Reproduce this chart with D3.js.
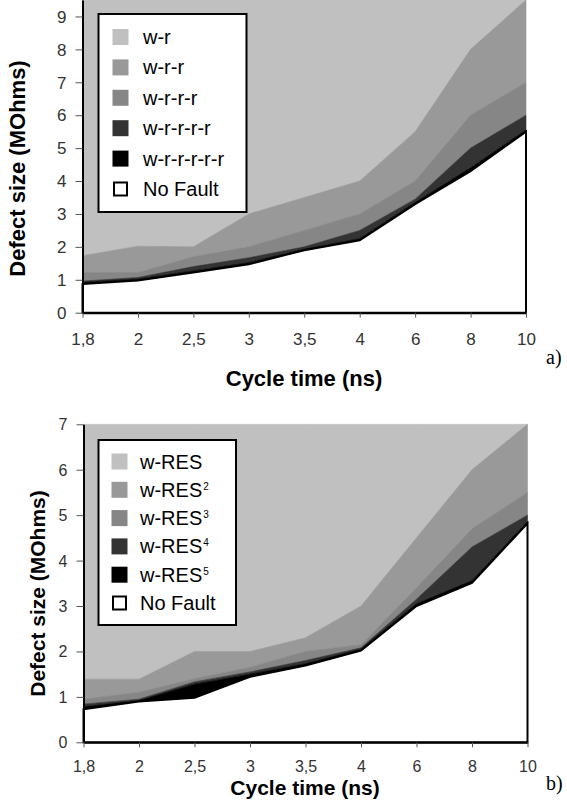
<!DOCTYPE html>
<html>
<head>
<meta charset="utf-8">
<script src="https://cdn.jsdelivr.net/npm/d3@7"></script>
<style>
  html, body { margin: 0; padding: 0; background: #fff; }
  svg { display: block; }
  .tick text { font-family: "Liberation Sans", Arial, sans-serif; fill: #333; }
</style>
</head>
<body>
<svg id="chart" width="567" height="811"></svg>
<script>
// ---------- data ----------
const cycleTimes = ["1,8", "2", "2,5", "3", "3,5", "4", "6", "8", "10"];
const yTicksA = [0, 1, 2, 3, 4, 5, 6, 7, 8, 9];
const yTicksB = [0, 1, 2, 3, 4, 5, 6, 7];

// chart a) : upper boundary of each band (MOhms)
const noFaultA = [0.87, 0.98, 1.22, 1.47, 1.9, 2.2, 3.3, 4.3, 5.5];
const wr5A     = [0.92, 1.02, 1.27, 1.52, 1.93, 2.25, 3.35, 4.4, 5.55];
const wr4A     = [0.96, 1.07, 1.4, 1.67, 2.0, 2.5, 3.45, 5.0, 6.0];
const wr3A     = [1.22, 1.22, 1.7, 2.0, 2.5, 3.0, 4.0, 6.0, 7.0];
const wr2A     = [1.73, 2.02, 2.0, 3.0, 3.5, 4.0, 5.5, 8.0, 9.5];
const wr1A     = [9.5, 9.5, 9.5, 9.5, 9.5, 9.5, 9.5, 9.5, 9.5];
const labelsA  = ["w-r", "w-r-r", "w-r-r-r", "w-r-r-r-r", "w-r-r-r-r-r", "No Fault"];

// chart b)
const noFaultB = [0.73, 0.9, 0.98, 1.44, 1.69, 2.02, 3.0, 3.51, 4.82];
const res5B    = [0.78, 0.92, 1.28, 1.5, 1.73, 2.05, 3.05, 3.56, 4.86];
const res4B    = [0.84, 0.95, 1.33, 1.55, 1.8, 2.08, 3.15, 4.3, 5.0];
const res3B    = [0.95, 1.1, 1.4, 1.65, 2.0, 2.15, 3.4, 4.7, 5.5];
const res2B    = [1.39, 1.39, 2.0, 2.0, 2.3, 3.0, 4.5, 6.0, 7.0];
const res1B    = [7, 7, 7, 7, 7, 7, 7, 7, 7];
const labelsB  = ["w-RES", "w-RES", "w-RES", "w-RES", "w-RES", "No Fault"];
const supsB    = ["", "2", "3", "4", "5", ""];

const colors = ["#c0c0c0", "#999999", "#868686", "#333333", "#000000", "#ffffff"];

// ---------- drawing ----------
const svg = d3.select("#chart");

function drawChart(cfg) {
  const g = svg.append("g");
  const x = d3.scalePoint().domain(cycleTimes).range([cfg.x0, cfg.x1]);
  const y = d3.scaleLinear().domain([0, cfg.yMax]).range([cfg.yBottom, cfg.yTop]);

  const bands = cfg.series; // ordered top (light) -> bottom (No Fault)
  bands.forEach((upper, i) => {
    if (i === bands.length - 1) return;
    const lower = bands[i + 1];
    const area = d3.area()
      .x((d, j) => x(cycleTimes[j]))
      .y0((d, j) => y(lower[j]))
      .y1((d, j) => y(upper[j]));
    g.append("path").datum(upper).attr("d", area)
      .attr("fill", colors[i]).attr("stroke", colors[i]).attr("stroke-width", 0.6);
  });
  // No Fault area with black outline
  const nf = bands[bands.length - 1];
  const nfArea = d3.area()
    .x((d, j) => x(cycleTimes[j]))
    .y0(y(0))
    .y1(d => y(d));
  g.append("path").datum(nf).attr("d", nfArea)
    .attr("fill", "#fff").attr("stroke", "#000").attr("stroke-width", 2)
    .attr("stroke-linejoin", "miter");

  // axes
  const yAxis = d3.axisLeft(y).tickValues(cfg.yTicks).tickSize(7).tickSizeOuter(0).tickPadding(9)
    .tickFormat(d3.format("d"));
  const ga = g.append("g").attr("transform", `translate(${cfg.x0},0)`).call(yAxis);
  ga.select(".domain").attr("stroke", "#000").attr("stroke-width", 2);
  ga.selectAll(".tick line").attr("stroke", "#555").attr("stroke-width", 1);
  ga.selectAll(".tick text").attr("font-size", cfg.tickFont).attr("dy", "0.34em");

  const xAxis = d3.axisBottom(x).tickSize(5).tickSizeOuter(0).tickPadding(cfg.xPad);
  const gx = g.append("g").attr("transform", `translate(0,${cfg.yBottom})`).call(xAxis);
  gx.select(".domain").attr("stroke", "#000").attr("stroke-width", 2);
  gx.selectAll(".tick line").attr("stroke", "#555").attr("stroke-width", 1);
  gx.selectAll(".tick text").attr("font-size", cfg.tickFont);

  // axis titles
  g.append("text")
    .attr("x", cfg.xTitleX).attr("y", cfg.xTitleY)
    .attr("text-anchor", "middle")
    .attr("font-family", "'Liberation Sans', Arial, sans-serif")
    .attr("font-weight", "bold").attr("font-size", cfg.xTitleFont)
    .attr("fill", "#000")
    .text("Cycle time (ns)");
  g.append("text")
    .attr("transform", `translate(${cfg.yTitleX},${cfg.yTitleY}) rotate(-90)`)
    .attr("text-anchor", "middle")
    .attr("font-family", "'Liberation Sans', Arial, sans-serif")
    .attr("font-weight", "bold").attr("font-size", cfg.yTitleFont)
    .attr("fill", "#000")
    .text("Defect size (MOhms)");

  // panel label
  g.append("text")
    .attr("x", 546).attr("y", cfg.panelY)
    .attr("font-family", "'Liberation Serif', 'Times New Roman', serif")
    .attr("font-size", 20).attr("fill", "#000")
    .text(cfg.panel);

  // legend
  const L = cfg.legend;
  g.append("rect")
    .attr("x", L.x).attr("y", L.y).attr("width", L.w).attr("height", L.h)
    .attr("fill", "#fff").attr("stroke", "#000").attr("stroke-width", 2);
  cfg.labels.forEach((lab, i) => {
    const cy = L.row0 + i * L.step;
    if (i < cfg.labels.length - 1) {
      g.append("rect").attr("x", L.sx).attr("y", cy - 8).attr("width", 16).attr("height", 16)
        .attr("fill", colors[i]);
    } else {
      g.append("rect").attr("x", L.sx + 1.5).attr("y", cy - 6.5).attr("width", 13).attr("height", 13)
        .attr("fill", "#fff").attr("stroke", "#000").attr("stroke-width", 2);
    }
    const t = g.append("text")
      .attr("x", L.tx).attr("y", cy + 7)
      .attr("font-family", "'Liberation Sans', Arial, sans-serif")
      .attr("font-size", 20).attr("fill", "#000");
    t.append("tspan").text(lab);
    const sup = cfg.sups ? cfg.sups[i] : "";
    if (sup) {
      t.append("tspan").attr("font-size", 10).attr("dy", -7).attr("dx", 1).text(sup);
    }
  });
}

drawChart({
  x0: 82.5, x1: 526, yTop: 0, yBottom: 312.7, yMax: 9.5,
  yTicks: yTicksA, tickFont: 17, xPad: 15,
  series: [wr1A, wr2A, wr3A, wr4A, wr5A, noFaultA],
  labels: labelsA, sups: null,
  xTitleX: 304, xTitleY: 386, xTitleFont: 22, yTitleX: 25, yTitleY: 168.5, yTitleFont: 22,
  panel: "a)", panelY: 364,
  legend: { x: 98.5, y: 14, w: 148, h: 198, sx: 112.5, tx: 143, row0: 37, step: 30.4 }
});

drawChart({
  x0: 83.5, x1: 527.5, yTop: 424.3, yBottom: 742.3, yMax: 7,
  yTicks: yTicksB, tickFont: 16, xPad: 13,
  series: [res1B, res2B, res3B, res4B, res5B, noFaultB],
  labels: labelsB, sups: supsB,
  xTitleX: 305, xTitleY: 795, xTitleFont: 21, yTitleX: 45, yTitleY: 593.5, yTitleFont: 21,
  panel: "b)", panelY: 790,
  legend: { x: 98.5, y: 440, w: 137.5, h: 185, sx: 111.5, tx: 140, row0: 461.5, step: 28.3 }
});
</script>
</body>
</html>
